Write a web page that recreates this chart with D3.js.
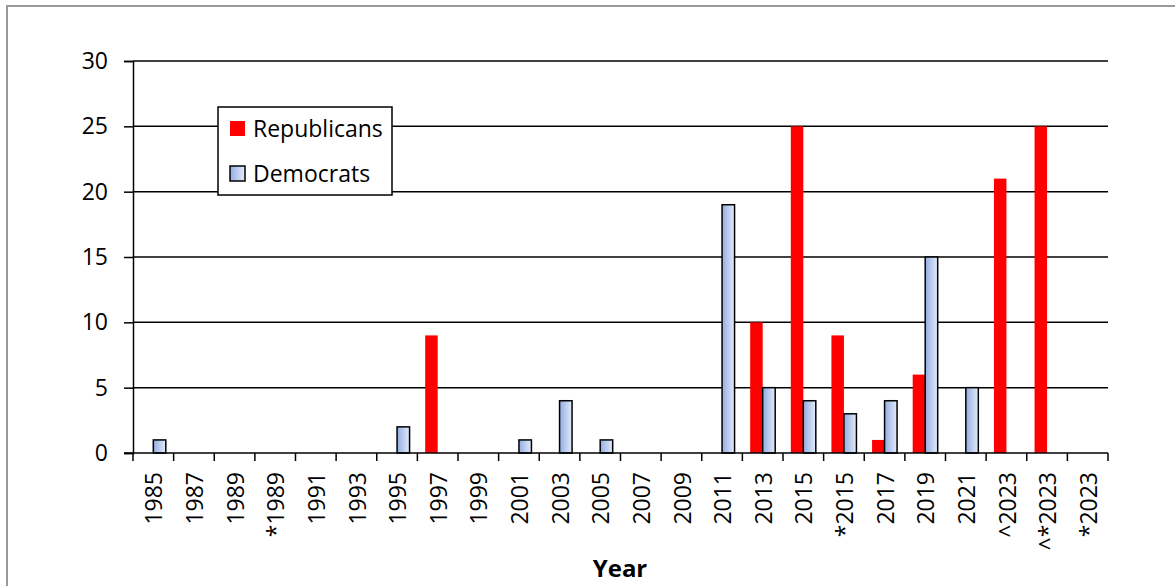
<!DOCTYPE html>
<html>
<head>
<meta charset="utf-8">
<script src="https://cdn.jsdelivr.net/npm/d3@7"></script>
<style>
  body { margin: 0; background: #fff; }
  svg text { font-family: "Open Sans", sans-serif; fill: #000; }
</style>
</head>
<body>
<svg id="chart" width="1175" height="586"></svg>
<script>
// categories along x axis
const years = ["1985","1987","1989","*1989","1991","1993","1995","1997","1999","2001","2003","2005",
  "2007","2009","2011","2013","2015","*2015","2017","2019","2021","^2023","^*2023","*2023"];
const republicans = [0,0,0,0,0,0,0,9,0,0,0,0,0,0,0,10,25,9,1,6,0,21,25,0];
const democrats   = [1,0,0,0,0,0,2,0,0,1,4,1,0,0,19,5,4,3,4,15,5,0,0,0];
const yTicks = [0,5,10,15,20,25,30];

const svg = d3.select("#chart");
const margin = {left: 133, right: 1108, top: 61, bottom: 453};

// outer frame
svg.append("rect")
  .attr("x", 7).attr("y", 6)
  .attr("width", 1180).attr("height", 600)
  .attr("fill", "#fff")
  .attr("stroke", "#999").attr("stroke-width", 2);

const x = d3.scaleBand().domain(years).range([margin.left, margin.right]).padding(0);
const y = d3.scaleLinear().domain([0, 30]).range([margin.bottom, margin.top]);
const barW = 12.5;

// gradient for democrat bars
const defs = svg.append("defs");
const grad = defs.append("linearGradient").attr("id", "demGrad")
  .attr("x1", "0%").attr("x2", "100%").attr("y1", "0%").attr("y2", "0%");
grad.append("stop").attr("offset", "0%").attr("stop-color", "#92ade3");
grad.append("stop").attr("offset", "100%").attr("stop-color", "#e4ebf9");

// gridlines
svg.append("g")
  .selectAll("line")
  .data(yTicks.filter(d => d > 0))
  .enter().append("line")
  .attr("x1", margin.left).attr("x2", margin.right)
  .attr("y1", d => y(d)).attr("y2", d => y(d))
  .attr("stroke", "#000").attr("stroke-width", 1.5);

// y axis
const yAxis = svg.append("g")
  .attr("transform", `translate(${margin.left},0)`)
  .call(d3.axisLeft(y).tickValues(yTicks).tickSize(9).tickPadding(16));
yAxis.select(".domain").attr("stroke", "#000").attr("stroke-width", 1.5);
yAxis.selectAll(".tick line").attr("stroke", "#000").attr("stroke-width", 1.5);
yAxis.selectAll("text").style("font-size", "23px").attr("fill", "#000")
  .style("font-family", "'Open Sans', sans-serif");

// bars
svg.append("g").selectAll("rect")
  .data(years.map((c, i) => ({c, v: republicans[i]})).filter(d => d.v > 0))
  .enter().append("rect")
  .attr("x", d => x(d.c) + x.bandwidth() / 2 - barW)
  .attr("y", d => y(d.v))
  .attr("width", barW)
  .attr("height", d => y(0) - y(d.v))
  .attr("fill", "#ff0000");

svg.append("g").selectAll("rect")
  .data(years.map((c, i) => ({c, v: democrats[i]})).filter(d => d.v > 0))
  .enter().append("rect")
  .attr("x", d => x(d.c) + x.bandwidth() / 2)
  .attr("y", d => y(d.v))
  .attr("width", barW)
  .attr("height", d => y(0) - y(d.v))
  .attr("fill", "url(#demGrad)")
  .attr("stroke", "#000").attr("stroke-width", 1.5);

// x axis line and ticks at category boundaries
const xg = svg.append("g");
xg.append("line")
  .attr("x1", margin.left - 9).attr("x2", margin.right)
  .attr("y1", y(0)).attr("y2", y(0))
  .attr("stroke", "#000").attr("stroke-width", 1.5);
const bounds = years.map(c => x(c)).concat([margin.right]);
xg.selectAll("line.tk")
  .data(bounds)
  .enter().append("line").attr("class", "tk")
  .attr("x1", d => d).attr("x2", d => d)
  .attr("y1", y(0)).attr("y2", y(0) + 8)
  .attr("stroke", "#000").attr("stroke-width", 1.5);

xg.selectAll("text")
  .data(years)
  .enter().append("text")
  .attr("transform", d => `translate(${x(d) + x.bandwidth() / 2 + 1},${y(0) + 19}) rotate(-90)`)
  .attr("text-anchor", "end")
  .attr("dy", "0.35em")
  .style("font-size", "23px")
  .text(d => d);

// axis title
svg.append("text")
  .attr("x", 620).attr("y", 577)
  .attr("text-anchor", "middle")
  .style("font-size", "24px").style("font-weight", "bold")
  .text("Year");

// legend
const legend = svg.append("g").attr("transform", "translate(218,107)");
legend.append("rect")
  .attr("width", 174).attr("height", 88)
  .attr("fill", "#fff").attr("stroke", "#000").attr("stroke-width", 1.5);
const items = [
  {name: "Republicans", fill: "#ff0000", stroke: "none"},
  {name: "Democrats", fill: "url(#demGrad)", stroke: "#000"}
];
const li = legend.selectAll("g.item")
  .data(items)
  .enter().append("g").attr("class", "item")
  .attr("transform", (d, i) => `translate(12,${14 + i * 45})`);
li.append("rect")
  .attr("width", 15).attr("height", 15)
  .attr("fill", d => d.fill)
  .attr("stroke", d => d.stroke).attr("stroke-width", 1.5);
li.append("text")
  .attr("x", 23).attr("y", 7.5).attr("dy", "0.35em")
  .style("font-size", "23px")
  .text(d => d.name);
</script>
</body>
</html>
